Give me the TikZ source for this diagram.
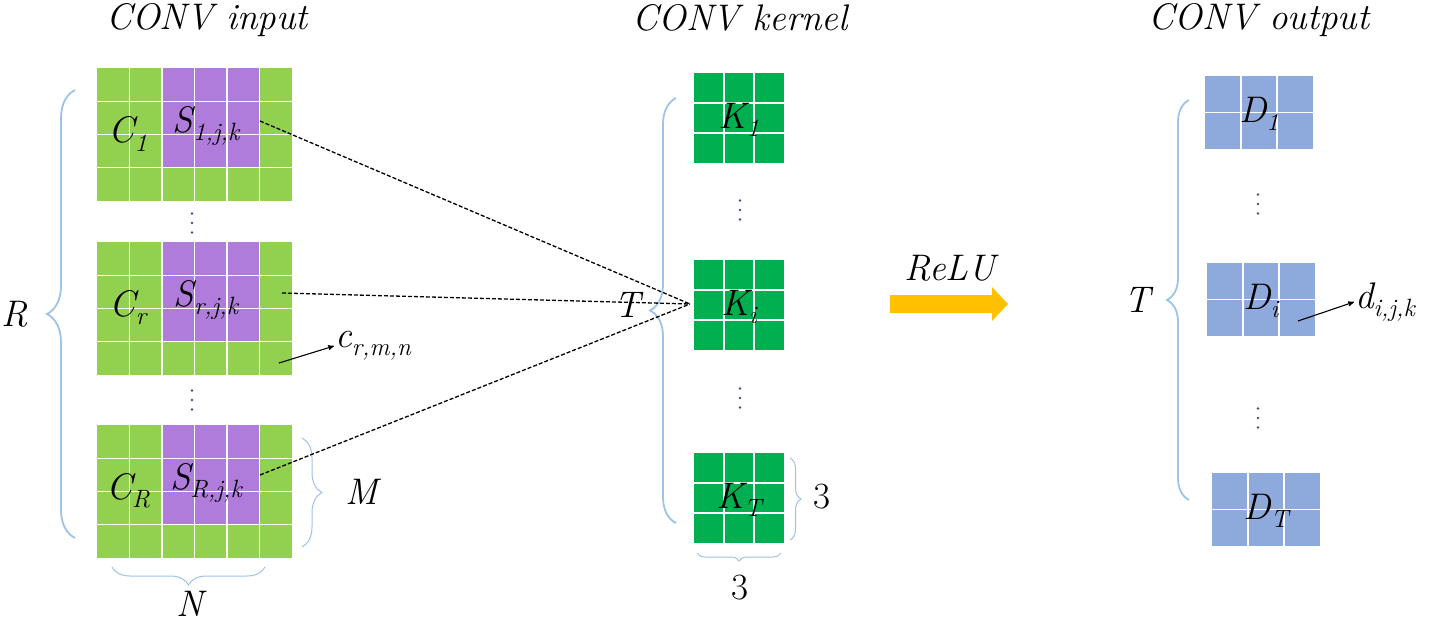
\documentclass[tikz,border=0pt]{standalone}
\usepackage[usenames,dvipsnames]{xcolor}
\usepackage{tikz}
\usetikzlibrary{arrows,decorations.pathreplacing}

\definecolor{inGreenColor}{RGB}{146,208,80}
\definecolor{inPurpleColor}{RGB}{176,124,220}
\definecolor{kerColor}{RGB}{0,176,80}
\definecolor{outColor}{RGB}{142,169,219}
\definecolor{braceColor}{RGB}{157,195,230}
\definecolor{reluColor}{RGB}{255,192,0}
\definecolor{dotColor}{RGB}{80,70,130}
\newcommand{\sublab}[2]{\textit{#1}\raisebox{-0.22em}{\fontsize{25}{26}\selectfont\textit{#2}}}

\begin{document}
\begin{tikzpicture}[x=1pt,y=-1pt,
  lbl/.style={font=\fontsize{37}{40}\selectfont\itshape, inner sep=1pt},
  ttl/.style={font=\fontsize{37}{44}\selectfont\itshape},
  num/.style={font=\fontsize{37}{40}\selectfont},
  cellline/.style={draw=white, line width=1.3pt},
  bigbrace/.style={draw=braceColor, line width=1.8pt, decorate, decoration={brace,amplitude=#1}},
  smallbrace/.style={draw=braceColor, line width=1pt, decorate, decoration={brace,amplitude=#1}},
  conn/.style={dash pattern=on 4pt off 2pt, line width=1.3pt},
  pointer/.style={->,>=stealth', line width=1.1pt}]
\useasboundingbox (0,0) rectangle (1429,627);
% titles
\node[ttl] (tin) at (207,20) {CONV input};
\node[ttl] (tker) at (740,18) {CONV kernel};
\node[ttl] (tout) at (1259,20) {CONV output};
% input maps
\foreach \gy/\sb/\gn in {68/1/a, 242/r/b, 425/R/c} {
  \fill[inGreenColor] (97,\gy) rectangle ++(195,133);
  \fill[inPurpleColor] (162,\gy) rectangle ++(98,100);
  \foreach \i in {1,...,5} \draw[cellline] ({97+32.5*\i},\gy) -- ++(0,133);
  \foreach \j in {1,2,3} \draw[cellline] (97,{\gy+33.25*\j}) -- ++(195,0);
  \node[lbl] (C\gn) at (128,\gy+66) {\sublab{C}{\sb}};
  \node[lbl] (S\gn) at (206,\gy+58) {\sublab{S}{\sb,j,k}};
}
% kernels
\foreach \ky/\sb/\gn in {73/1/a, 260/i/b, 453/T/c} {
  \fill[kerColor] (694,\ky) rectangle ++(90,90);
  \foreach \i in {1,2} {
    \draw[cellline] ({694+30*\i},\ky) -- ++(0,90);
    \draw[cellline] (694,{\ky+30*\i}) -- ++(90,0);
  }
  \node[lbl] (K\gn) at (739,\ky+47) {\sublab{K}{\sb}};
}
% outputs
\foreach \ox/\oy/\sb/\gn in {1205/76/1/a, 1207/263/i/b, 1212/473/T/c} {
  \fill[outColor] (\ox,\oy) rectangle ++(108,73);
  \foreach \i in {1,2} \draw[cellline] ({\ox+36*\i},\oy) -- ++(0,73);
  \draw[cellline] (\ox,{\oy+36.5}) -- ++(108,0);
  \node[lbl] (D\gn) at (\ox+54,\oy+38) {\sublab{D}{\sb}};
}
% vertical dots
\foreach \dx/\dy in {192/223, 192/400, 740/210, 740/398, 1258/204, 1258/418}
  \foreach \k in {-9.5,0,9.5}
    \fill[dotColor] (\dx,\dy+\k) circle (1.4);
% braces
\draw[bigbrace=28] (75,538) -- (75,90);
\node[lbl] (R) at (15,314) {R};
\draw[smallbrace=20] (302,438) -- (302,547);
\node[lbl] (M) at (362,492) {M};
\draw[smallbrace=18] (265,567) -- (112,567);
\node[lbl] (N) at (190,604) {N};
\node[lbl] (Tk) at (627,305) {T};
\draw[bigbrace=26] (676,523) -- (676,98);
\draw[smallbrace=11] (790,458) -- (790,540);
\node[num] (row3) at (822,497) {3};
\draw[smallbrace=8] (781,553) -- (697,553);
\node[num] (col3) at (740,588) {3};
\draw[bigbrace=22] (1189,500) -- (1189,100);
\node[lbl] (To) at (1137,300) {T};
% dashed links to the kernel
\coordinate (s1) at (260,121);
\coordinate (s2) at (282,293);
\coordinate (s3) at (260,475);
\coordinate (kin) at (690,304);
\foreach \s in {s1,s2,s3}
  \draw[conn] (\s) -- (kin);
% element pointers
\coordinate (cpt) at (279,363);
\node[lbl, anchor=west] (clab) at (334,346) {\sublab{c}{r,m,n}};
\draw[pointer] (cpt) -- (clab.west);
\coordinate (dpt) at (1298,321);
\node[lbl, anchor=west] (dlab) at (1354,302) {\sublab{d}{i,j,k}};
\draw[pointer] (dpt) -- (dlab.west);
% ReLU
\node[lbl] (relu) at (950,268) {ReLU};
\fill[reluColor] (890,295) -- (992,295) -- (992,287) -- (1008,304) -- (992,321) -- (992,313) -- (890,313) -- cycle;
\end{tikzpicture}
\end{document}
